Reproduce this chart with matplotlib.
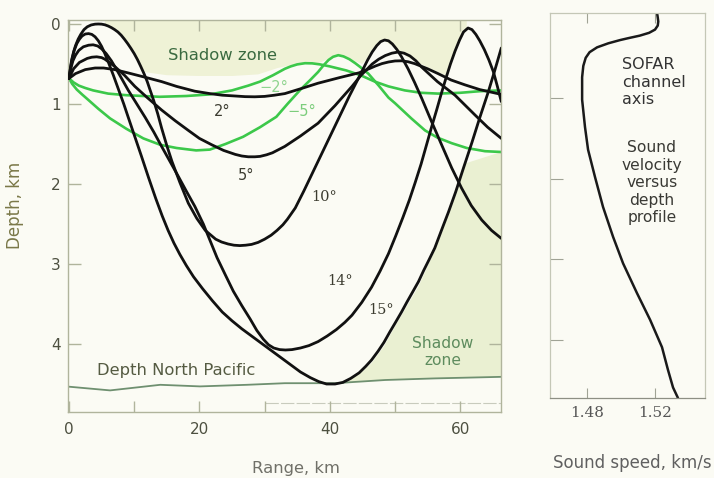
import matplotlib
matplotlib.use("Agg")
import matplotlib.pyplot as plt

W, H = 714, 478
BG = '#fbfbf4'

# ---------------- data (range km, depth km) ----------------
ray2_r = [0, 1, 2.5, 4, 5.3, 7, 9, 11.4, 14.2, 16.5, 19.3, 21.6, 23.5, 25.5, 27, 28.5, 30,
          31.5, 33.1, 35.5, 38.2, 41.5, 44.5, 46, 47, 48, 49, 50, 51, 52, 53, 55, 56.6, 58.6,
          60.7, 63, 66.3]
ray2_d = [0.68, 0.62, 0.57, 0.55, 0.55, 0.57, 0.61, 0.66, 0.72, 0.78, 0.84, 0.87, 0.89, 0.9,
          0.908, 0.91, 0.905, 0.89, 0.87, 0.81, 0.74, 0.67, 0.61, 0.56, 0.525, 0.495, 0.475,
          0.462, 0.46, 0.472, 0.495, 0.56, 0.62, 0.7, 0.76, 0.82, 0.88]

ray5_r = [0, 0.7, 1.6, 2.8, 3.5, 4.25, 5, 5.5, 7, 8.5, 10.1, 12, 14.2, 16.3, 18.3, 20, 21.9,
          23.7, 25.5, 26.5, 27.5, 28.5, 29.3, 30.3, 31.2, 33.1, 35.5, 38.2, 40.8, 43.4, 44.8,
          46.5, 47.5, 48.5, 49.5, 50.5, 51.4, 52.3, 53.2, 54.1, 56.5, 59.2, 62.3, 64.2, 66.3]
ray5_d = [0.68, 0.56, 0.48, 0.43, 0.415, 0.41, 0.42, 0.44, 0.53, 0.64, 0.78, 0.92, 1.075, 1.21,
          1.33, 1.43, 1.51, 1.58, 1.63, 1.65, 1.66, 1.66, 1.655, 1.635, 1.61, 1.53, 1.4, 1.24,
          1.02, 0.78, 0.64, 0.5, 0.44, 0.395, 0.365, 0.35, 0.365, 0.4, 0.46, 0.54, 0.72, 0.89,
          1.14, 1.29, 1.43]

ray10_r = [0, 0.2, 0.4, 0.7, 1, 1.4, 1.8, 2.3, 2.8, 3.4, 4, 4.5, 5, 5.5, 6, 6.5, 7, 7.5, 8,
           8.5, 9, 9.5, 10, 10.5, 11, 11.5, 12, 12.5, 13, 13.6, 14.2, 15, 15.8, 17, 18.3, 19.6,
           20.9, 22.5, 23.4, 24.4, 25.3, 26.2, 27.1, 28, 29, 30, 31, 31.9, 32.8, 33.5, 34.7,
           36, 37, 38, 39, 40, 41, 42, 43, 44, 45, 45.8, 46.5, 47.2, 47.8, 48.4, 49, 49.6, 50.3,
           51, 52, 53, 54.1, 55.5, 57.2, 58.7, 60.2, 61.7, 63.3, 64.8, 66.3]
ray10_d = [0.68, 0.56, 0.45, 0.35, 0.27, 0.19, 0.13, 0.07, 0.035, 0.012, 0.002, 0.0, 0.002,
           0.01, 0.025, 0.045, 0.07, 0.1, 0.14, 0.19, 0.245, 0.305, 0.37, 0.445, 0.53, 0.62,
           0.72, 0.84, 0.96, 1.12, 1.3, 1.52, 1.72, 1.98, 2.24, 2.43, 2.58, 2.69, 2.725, 2.75,
           2.765, 2.77, 2.765, 2.755, 2.73, 2.69, 2.64, 2.58, 2.51, 2.44, 2.3, 2.09, 1.92, 1.75,
           1.58, 1.41, 1.24, 1.07, 0.9, 0.74, 0.58, 0.45, 0.35, 0.27, 0.22, 0.2, 0.21, 0.25,
           0.32, 0.41, 0.56, 0.73, 0.93, 1.2, 1.52, 1.8, 2.05, 2.27, 2.45, 2.58, 2.68]

ray14_r = [0, 0.3, 0.6, 1, 1.5, 2.2, 3, 3.7, 4.4, 5, 5.7, 6.5, 7.3, 8.2, 9.1, 10.4, 11.7, 13,
           14.2, 15.5, 16.8, 18, 19.3, 20.6, 21.7, 22.7, 24, 25.2, 26.5, 27.8, 28.8, 29.8, 30.6,
           31.4, 32.3, 33.2, 34.2, 35.5, 36.8, 38.2, 39.6, 41, 42.3, 43.4, 44.9, 46.4, 47.7, 49,
           50.1, 51.2, 52.2, 53.1, 54, 54.8, 55.6, 56.4, 57.1, 57.8, 58.5, 59.2, 59.9, 60.5,
           61.2, 61.8, 62.4, 63, 63.7, 64.4, 65.1, 65.7, 66.3]
ray14_d = [0.68, 0.55, 0.46, 0.39, 0.33, 0.285, 0.265, 0.26, 0.275, 0.31, 0.37, 0.46, 0.57,
           0.7, 0.83, 1.0, 1.17, 1.35, 1.53, 1.72, 1.91, 2.09, 2.28, 2.5, 2.72, 2.92, 3.14,
           3.34, 3.52, 3.69, 3.83, 3.94, 4.01, 4.05, 4.07, 4.075, 4.07, 4.05, 4.02, 3.97, 3.9,
           3.82, 3.73, 3.64, 3.48, 3.29, 3.09, 2.87, 2.65, 2.42, 2.2, 1.98, 1.75, 1.52, 1.29,
           1.07, 0.87, 0.68, 0.5, 0.34, 0.2, 0.1, 0.05, 0.07, 0.13, 0.21, 0.32, 0.45, 0.6,
           0.78, 0.97]

ray15_r = [0, 0.25, 0.5, 0.8, 1.2, 1.6, 2, 2.5, 3, 3.5, 4, 4.5, 5, 5.5, 6, 6.8, 7.6, 8.4, 9.1,
           10.1, 11.1, 12.2, 13.3, 14.3, 15.2, 16.1, 17, 18, 19.1, 20.5, 22, 23.5, 25, 26.5, 28,
           29.5, 31, 32.5, 34, 35.5, 37, 38.3, 39.5, 40.8, 42, 43.2, 44.5, 45.5, 46.4, 47.4,
           48.3, 49.2, 50, 51, 51.8, 52.7, 53.6, 54.4, 55.2, 56.1, 56.7, 57.4, 58.2, 59.3, 60.5,
           61.8, 63, 64.3, 65.3, 66.3]
ray15_d = [0.68, 0.54, 0.43, 0.33, 0.245, 0.19, 0.15, 0.125, 0.12, 0.13, 0.16, 0.21, 0.28,
           0.37, 0.47, 0.64, 0.82, 1.0, 1.17, 1.41, 1.65, 1.92, 2.18, 2.4, 2.58, 2.74, 2.88,
           3.02, 3.16, 3.31, 3.46, 3.6, 3.71, 3.81, 3.9, 3.99, 4.08, 4.17, 4.26, 4.35, 4.42,
           4.47, 4.5, 4.5, 4.48, 4.43, 4.36, 4.28, 4.2, 4.09, 3.98, 3.85, 3.74, 3.6, 3.48, 3.35,
           3.22, 3.08, 2.95, 2.8, 2.67, 2.52, 2.35, 2.1, 1.8, 1.48, 1.17, 0.85, 0.58, 0.3]

raym2_r = [0, 0.7, 1.5, 2.5, 3.7, 6, 8.8, 13.9, 18, 21.6, 25, 27.5, 29.3, 31.3, 33.1, 34, 35,
           36.2, 37.3, 38.5, 40, 42.5, 44.7, 46.9, 49, 51.5, 54, 56.6, 60, 63, 66.3]
raym2_d = [0.68, 0.73, 0.77, 0.8, 0.83, 0.87, 0.89, 0.91, 0.9, 0.88, 0.83, 0.77, 0.72, 0.64,
           0.56, 0.53, 0.505, 0.49, 0.492, 0.505, 0.53, 0.58, 0.64, 0.72, 0.78, 0.83, 0.86,
           0.87, 0.86, 0.84, 0.83]

raym5_r = [0, 0.5, 1.2, 2, 2.7, 4.5, 6.3, 8.8, 11.4, 14, 16.5, 19.5, 21.6, 24, 26.7, 29.3,
           31.8, 33.5, 35.5, 37, 38.2, 39, 39.8, 40.5, 41.3, 42.1, 43, 43.9, 44.7, 45.9, 47.5,
           49, 50, 52.5, 54.6, 56.5, 58.7, 61, 63.8, 66.3]
raym5_d = [0.68, 0.75, 0.82, 0.88, 0.93, 1.06, 1.18, 1.31, 1.43, 1.51, 1.55, 1.58, 1.57, 1.5,
           1.41, 1.29, 1.16, 1.0, 0.82, 0.7, 0.6, 0.52, 0.45, 0.41, 0.39, 0.405, 0.44, 0.49,
           0.54, 0.62, 0.77, 0.92, 0.99, 1.18, 1.33, 1.42, 1.49, 1.55, 1.59, 1.6]

floor_r = [-0.5, 6.3, 14, 20.1, 27.3, 33.1, 40.8, 48.5, 56.1, 66.6]
floor_d = [4.53, 4.58, 4.51, 4.53, 4.51, 4.49, 4.49, 4.45, 4.43, 4.41]

shadow_top_r = [5.5, 7, 8.5, 10, 11.5, 15, 20, 25, 29, 32, 35, 38, 40, 41.3, 43, 45, 46.7,
                48.2, 50, 52, 54, 56, 58, 59.5, 61]
shadow_top_d = [0.0, 0.07, 0.2, 0.38, 0.6, 0.64, 0.65, 0.65, 0.63, 0.55, 0.5, 0.5, 0.43, 0.39,
                0.44, 0.5, 0.33, 0.2, 0.3, 0.42, 0.5, 0.58, 0.65, 0.3, 0.05]

shadow_low_r = [39.5, 42.3, 44.5, 46.4, 48.3, 50, 51.8, 53.6, 55, 56.1, 57.2, 58.2, 59.3, 60.5,
                66.3, 66.3, 56.1, 48.5, 40.8]
shadow_low_d = [4.5, 4.47, 4.38, 4.24, 4.03, 3.78, 3.53, 3.28, 3.03, 2.83, 2.6, 2.33, 2.05, 1.75,
                1.6, 4.41, 4.43, 4.45, 4.49]

# sound speed profile (km/s, depth km)
prof_speed = [1.5212, 1.5216, 1.5219, 1.5216, 1.52, 1.5165, 1.511, 1.5045, 1.4994, 1.4925,
              1.4859, 1.4815, 1.4792, 1.4778, 1.4771, 1.4771, 1.4788, 1.4806, 1.4847, 1.4894,
              1.4953, 1.5012, 1.5094, 1.5171, 1.5241, 1.5276, 1.5306, 1.5335]
prof_depth = [-0.056, 0.0, 0.05, 0.1, 0.15, 0.19, 0.225, 0.255, 0.28, 0.32, 0.37, 0.43, 0.5,
              0.6, 0.74, 1.02, 1.36, 1.64, 1.98, 2.35, 2.72, 3.05, 3.42, 3.75, 4.09, 4.37, 4.59,
              4.72]

x_ticks = [0, 20, 40, 60]
x_minor = [10, 30, 50]
y_ticks = [0, 1, 2, 3, 4]
speed_ticks = [1.48, 1.52]

black_rays = [(ray2_r, ray2_d), (ray5_r, ray5_d), (ray10_r, ray10_d),
              (ray14_r, ray14_d), (ray15_r, ray15_d)]
green_rays = [(raym2_r, raym2_d), (raym5_r, raym5_d)]

angle_labels = [("2°", 23.5, 1.1, 'sans'), ("5°", 27.1, 1.89, 'sans'),
                ("10°", 39.1, 2.16, 'serif'), ("14°", 41.6, 3.21, 'serif'),
                ("15°", 47.9, 3.58, 'serif')]
green_labels = [("−2°", 31.4, 0.79, '#8fd48f'), ("−5°", 35.7, 1.1, '#7ccd7c')]

# ---------------- figure ----------------
fig = plt.figure(figsize=(W / 100, H / 100), dpi=100)
fig.patch.set_facecolor(BG)


def rect(x0, y0, x1, y1):
    return [x0 / W, 1 - y1 / H, (x1 - x0) / W, (y1 - y0) / H]


def ftext(x, y, s, **kw):
    fig.text(x / W, 1 - y / H, s, **kw)


SPINE = '#b0b49c'
ax = fig.add_axes(rect(67.7, 20, 501.3, 412))
ax.set_facecolor(BG)
ax.set_xlim(-0.2, 66.3)
ax.set_ylim(4.85, -0.05)

ax.fill(shadow_top_r + [61, 5.5], shadow_top_d + [-0.05, -0.05], color='#eff2d6', lw=0, zorder=0)
ax.fill(shadow_low_r, shadow_low_d, color='#eaf0d2', lw=0, zorder=0)
ax.plot(floor_r, floor_d, color='#6f9070', lw=1.3, zorder=1)
ax.plot([30, 66.3], [4.74, 4.74], color='#c8cbbd', lw=0.8, ls=(0, (12, 2)), zorder=1)

for r, d in green_rays:
    ax.plot(r, d, color='#3cc84a', lw=1.9, solid_capstyle='round', solid_joinstyle='round',
            zorder=2)
for r, d in black_rays:
    ax.plot(r, d, color='#111111', lw=2.0, solid_capstyle='round', solid_joinstyle='round',
            zorder=3)

for s, x, y, fam in angle_labels:
    ax.text(x, y, s, ha='center', va='center', fontsize=10.5,
            family='DejaVu Serif' if fam == 'serif' else 'DejaVu Sans', color='#3c3c30', zorder=4)
for s, x, y, c in green_labels:
    ax.text(x, y, s, ha='center', va='center', fontsize=10.5, color=c, zorder=4)

ax.text(23.5, 0.39, "Shadow zone", ha='center', va='center', fontsize=11.8,
        color='#3a6a40', zorder=4)
ax.text(57.3, 4.1, "Shadow\nzone", ha='center', va='center', fontsize=11.2,
        color='#5e8c5e', linespacing=1.15, zorder=4)
ax.text(4.3, 4.33, "Depth North Pacific", ha='left', va='center', fontsize=11.8,
        color='#555b42', zorder=4)

for sp in ax.spines.values():
    sp.set_color(SPINE)
    sp.set_linewidth(1.0)
ax.set_xticks(x_ticks)
ax.set_xticklabels([str(v) for v in x_ticks])
ax.set_xticks(x_minor, minor=True)
ax.set_yticks(y_ticks)
ax.set_yticklabels([str(v) for v in y_ticks])
ax.tick_params(axis='x', which='both', direction='in', top=True, bottom=True, length=8,
               width=1.0, color=SPINE, labelsize=11, labelcolor='#4d5040', pad=7)
ax.tick_params(axis='y', which='both', direction='in', left=True, right=True, length=9,
               width=1.0, color=SPINE, labelsize=11, labelcolor='#4d5040', pad=5)

ftext(15, 205, "Depth, km", rotation=90, ha='center', va='center', fontsize=12,
      color='#7a7848')
ftext(296, 468, "Range, km", ha='center', va='center', fontsize=11.8, color='#707068')

# ---------------- right panel ----------------
ax2 = fig.add_axes(rect(550, 13, 705, 398))
ax2.set_facecolor(BG)
ax2.set_xlim(1.4582, 1.5494)
ax2.set_ylim(4.72, -0.056)
ax2.plot(prof_speed, prof_depth, color='#1a1a1a', lw=1.8, solid_capstyle='round',
         solid_joinstyle='round')
for name, sp in ax2.spines.items():
    sp.set_color('#c4c7b6')
    sp.set_linewidth(0.9)
ax2.spines['bottom'].set_color('#8d8f84')
ax2.set_xticks(speed_ticks)
ax2.set_xticklabels(['1.48', '1.52'], family='DejaVu Serif')
ax2.set_yticks([1, 2, 3, 4])
ax2.set_yticklabels([])
ax2.tick_params(axis='x', direction='in', top=True, bottom=True, length=7, color='#a0a395',
                labelsize=11, labelcolor='#555555', pad=6)
ax2.tick_params(axis='y', direction='in', left=True, right=False, length=9, color='#a0a395')

ax2.text(1.5006, 0.80, "SOFAR\nchannel\naxis", ha='left', va='center', fontsize=11.5,
         color='#333333', linespacing=1.2)
ax2.text(1.5182, 2.05, "Sound\nvelocity\nversus\ndepth\nprofile", ha='center', va='center',
         fontsize=11.2, color='#3a3a35', linespacing=1.2, multialignment='center')
ftext(632, 463, "Sound speed, km/s", ha='center', va='center', fontsize=12, color='#606060')

fig.savefig("out.png", dpi=100, facecolor=BG)
